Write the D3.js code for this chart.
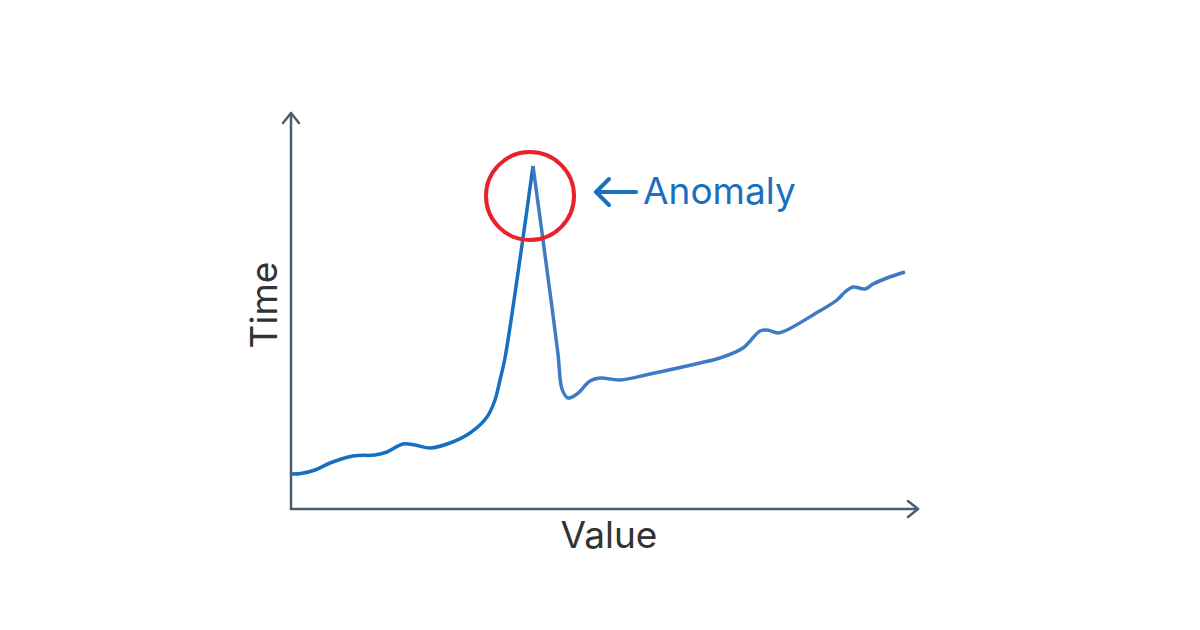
<!DOCTYPE html>
<html><head><meta charset="utf-8">
<script src="https://cdn.jsdelivr.net/npm/d3@7/dist/d3.min.js"></script>
<style>html,body{margin:0;padding:0;background:#fff}svg{display:block}</style>
</head><body>
<svg id="c" width="1200" height="630"></svg>
<script>
// Series (x = time offset, y = value offset)
const riseX = [0, 10, 24, 39, 62, 84, 96, 112, 124, 139, 159, 179, 196, 204, 209, 214, 231, 242];
const riseY = [35, 35.5, 39, 46, 53, 54, 57, 65, 64, 61, 66, 76, 92, 109, 129, 151, 264, 343];
const fallX = [242, 252, 260, 267, 271, 277, 286, 299, 309, 329, 359, 409, 429, 452, 469, 476, 487, 496, 522, 546, 554, 562, 574, 582, 596, 614];
const fallY = [343, 269, 209, 155, 120, 111, 115, 128, 131, 129, 135, 146, 151, 161, 178, 179, 176, 179, 194, 209, 217, 222, 220, 225, 231, 237];
const anomalyX = [239];
const anomalyY = [313];
const labels = {x: "Value", y: "Time", note: "Anomaly"};

const svg = d3.select("#c");
const x = d3.scaleLinear().domain([0, 627]).range([291, 918]);
const y = d3.scaleLinear().domain([0, 400]).range([509, 109]);
const axisColor = "#4b5d6e";

// axes with arrowheads
const g = svg.append("g").attr("stroke", axisColor).attr("stroke-width", 2.5).attr("fill", "none")
  .attr("stroke-linecap", "round").attr("stroke-linejoin", "round");
g.append("path").attr("d", `M${x(0)},${y(0)}L${x(0)},${y(396)}`);
g.append("path").attr("d", `M${x(0)},${y(0)}L${x(627)},${y(0)}`);
g.append("path").attr("d", `M${x(0)-8},${y(396)+10}L${x(0)},${y(396)}L${x(0)+8},${y(396)+10}`);
g.append("path").attr("d", `M${x(627)-10},${y(0)-8}L${x(627)},${y(0)}L${x(627)-10},${y(0)+8}`);

const line = d3.line().x(d => x(d[0])).y(d => y(d[1])).curve(d3.curveCatmullRom.alpha(0.5));
svg.append("path").datum(riseX.map((v, i) => [v, riseY[i]]))
  .attr("d", line).attr("fill", "none").attr("stroke", "#1670bf").attr("stroke-width", 3.5).attr("stroke-linejoin", "round");
svg.append("path").datum(fallX.map((v, i) => [v, fallY[i]]))
  .attr("d", line).attr("fill", "none").attr("stroke", "#3e7bc3").attr("stroke-width", 3.5).attr("stroke-linejoin", "round");

// anomaly circle
svg.append("circle").attr("cx", x(anomalyX[0])).attr("cy", y(anomalyY[0])).attr("r", 44)
  .attr("fill", "none").attr("stroke", "#e8222b").attr("stroke-width", 4);

// arrow + label
const ax = x(anomalyX[0]) + 66, ay = y(anomalyY[0]) - 4;
const ag = svg.append("g").attr("stroke", "#1a6fbe").attr("stroke-width", 4).attr("fill", "none")
  .attr("stroke-linecap", "round").attr("stroke-linejoin", "round");
ag.append("path").attr("d", `M${ax},${ay}L${ax+40},${ay}`);
ag.append("path").attr("d", `M${ax+13},${ay-13}L${ax},${ay}L${ax+13},${ay+13}`);
svg.append("text").attr("x", ax + 47).attr("y", ay + 12).attr("fill", "#1a6fbe")
  .attr("font-family", "Inter, sans-serif").attr("font-size", 37).text(labels.note);

svg.append("text").attr("x", 609).attr("y", 548).attr("text-anchor", "middle").attr("fill", "#333")
  .attr("font-family", "Inter, sans-serif").attr("font-size", 37).text(labels.x);
svg.append("text").attr("transform", "translate(277,305) rotate(-90)").attr("text-anchor", "middle").attr("fill", "#333")
  .attr("font-family", "Inter, sans-serif").attr("font-size", 37).text(labels.y);
</script>
</body></html>
